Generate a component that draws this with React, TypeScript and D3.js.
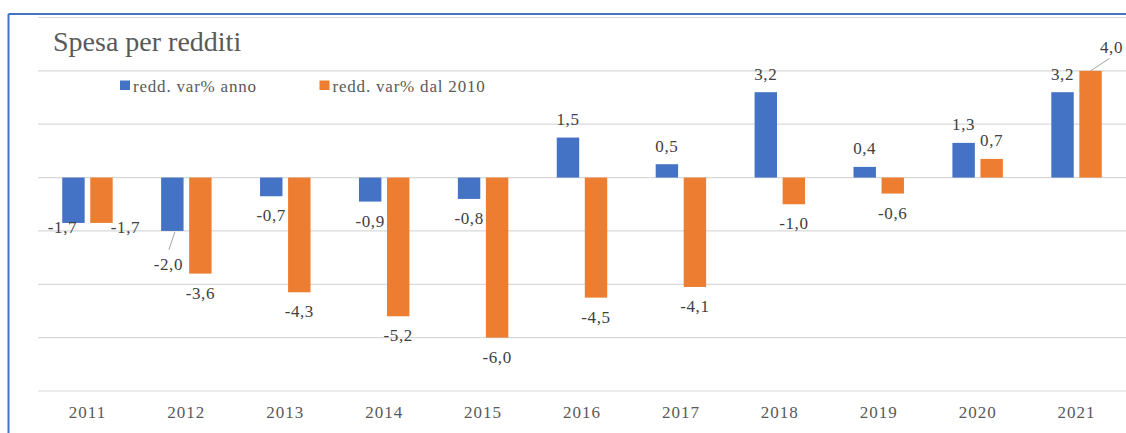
import React from 'react';
import * as d3 from 'd3';

const years = ['2011', '2012', '2013', '2014', '2015', '2016', '2017', '2018', '2019', '2020', '2021'];
const annoValues = [-1.7, -2.0, -0.7, -0.9, -0.8, 1.5, 0.5, 3.2, 0.4, 1.3, 3.2];
const dal2010Values = [-1.7, -3.6, -4.3, -5.2, -6.0, -4.5, -4.1, -1.0, -0.6, 0.7, 4.0];
const seriesNames = ['redd. var% anno', 'redd. var% dal 2010'];
const gridTicks = [6, 4, 2, 0, -2, -4, -6, -8];

const colors = ['#4472C4', '#ED7D31'];
const serif = { fontFamily: '"Liberation Serif"' };

// label nudges where Excel moved labels to avoid overlap (dx, baseline from bar end, leader line)
const nudges: Record<string, { dx: number; dy: number; leader?: boolean }> = {
  '0-2011': { dx: -11, dy: 10 },
  '1-2011': { dx: 24, dy: 10 },
  '0-2012': { dx: -4, dy: 39, leader: true },
  '1-2021': { dx: 21, dy: -18, leader: true },
};

const fmt = (v: number) => v.toFixed(1).replace('.', ',');

export default function App() {
  const width = 1126;
  const height = 433;
  const plotLeft = 38;
  const plotRight = 1126;

  const x0 = d3.scaleBand().domain(years).range([plotLeft, plotRight]).padding(0);
  const bw = x0.bandwidth();
  const x1 = d3.scaleBand<number>().domain([0, 1]).range([bw * 0.245, bw * 0.755]).paddingInner(0.2);
  const y = d3.scaleLinear().domain([-8, 6]).range([391, 17.5]);

  const data = [annoValues, dal2010Values];

  return (
    <svg width={width} height={height} style={{ position: 'absolute', left: 0, top: 0, background: '#fff' }}>
      <rect x={0} y={0} width={width} height={height} fill="#fff" />
      {/* frame */}
      <line x1={8.5} x2={width} y1={14} y2={14} stroke="#4472C4" strokeWidth={2} />
      <line x1={8.5} x2={8.5} y1={14} y2={height} stroke="#4472C4" strokeWidth={2} />

      <text x={53} y={50.5} style={serif} fontSize={28} fill="#595959">Spesa per redditi</text>

      {gridTicks.map(t => (
        <line key={t} x1={plotLeft} x2={plotRight} y1={y(t)} y2={y(t)} stroke="#d9d9d9" strokeWidth={1.2} />
      ))}

      {/* legend */}
      {seriesNames.map((name, i) => {
        const lx = i === 0 ? 120 : 319.5;
        return (
          <g key={name}>
            <rect x={lx} y={80.5} width={10} height={9.5} fill={colors[i]} />
            <text x={lx + 13} y={91.5} style={serif} fontSize={17} letterSpacing={0.8} fill="#595959">{name}</text>
          </g>
        );
      })}

      {data.map((vals, si) => (
        <g key={si} fill={colors[si]}>
          {vals.map((v, i) => {
            const bx = (x0(years[i]) ?? 0) + (x1(si) ?? 0);
            return (
              <rect key={years[i]} x={bx} y={y(Math.max(0, v))} width={x1.bandwidth()}
                height={Math.abs(y(v) - y(0))} />
            );
          })}
        </g>
      ))}

      {data.map((vals, si) => (
        <g key={'l' + si} fontSize={17} letterSpacing={0.6} fill="#404040" textAnchor="middle">
          {vals.map((v, i) => {
            const cx = (x0(years[i]) ?? 0) + (x1(si) ?? 0) + x1.bandwidth() / 2;
            const end = y(v);
            const n = nudges[`${si}-${years[i]}`];
            const lx = cx + (n ? n.dx : 0);
            const ly = end + (n ? n.dy : v < 0 ? 25 : -12.5);
            let leader = null;
            if (n && n.leader) {
              leader = v < 0
                ? <line x1={cx + 2.5} y1={end + 1} x2={cx - 3.5} y2={end + 19} stroke="#a6a6a6" strokeWidth={1} />
                : <line x1={cx} y1={end} x2={cx + 19} y2={end - 12.5} stroke="#a6a6a6" strokeWidth={1} />;
            }
            return (
              <g key={years[i]}>
                {leader}
                <text x={lx} y={ly} style={serif}>{fmt(v)}</text>
              </g>
            );
          })}
        </g>
      ))}

      {years.map(yr => (
        <text key={yr} x={(x0(yr) ?? 0) + bw / 2} y={418} style={serif} fontSize={17} letterSpacing={1}
          textAnchor="middle" fill="#595959">{yr}</text>
      ))}
    </svg>
  );
}
